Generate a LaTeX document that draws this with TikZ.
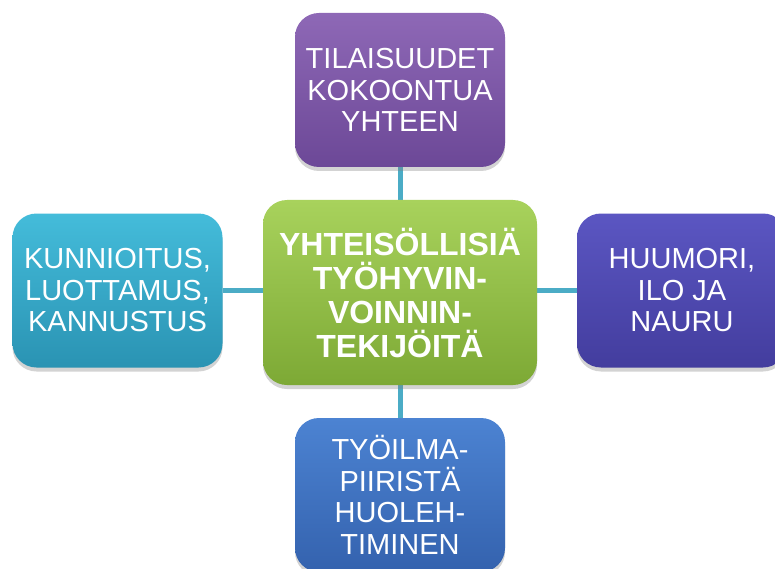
\documentclass[tikz,border=0pt]{standalone}
\usepackage{fontspec}
\setmainfont{Liberation Sans}
\usetikzlibrary{shadows,backgrounds}
\definecolor{conncol}{HTML}{4BACC6}
\tikzset{
  box/.style={rectangle, rounded corners=24pt, inner sep=0pt, align=center,
    text=white, minimum width=210pt, minimum height=154pt,
    font=\fontsize{29}{31.5}\selectfont,
    drop shadow={opacity=0.35, shadow xshift=0pt, shadow yshift=-4pt}},
  topbox/.style={box, top color=purpT, bottom color=purpB},
  leftbox/.style={box, top color=cyanT, bottom color=cyanB},
  rightbox/.style={box, top color=violT, bottom color=violB},
  botbox/.style={box, top color=blueT, bottom color=blueB},
  centerbox/.style={box, top color=greenT, bottom color=greenB,
    minimum width=274pt, minimum height=185pt,
    font=\bfseries\fontsize{32}{34}\selectfont},
  conn/.style={draw=conncol, line width=5pt}
}
\definecolor{purpT}{HTML}{8E68B6}
\definecolor{purpB}{HTML}{6C4897}
\definecolor{cyanT}{HTML}{44BCDA}
\definecolor{cyanB}{HTML}{2A93B3}
\definecolor{violT}{HTML}{5B56C2}
\definecolor{violB}{HTML}{433D9E}
\definecolor{blueT}{HTML}{4C83D2}
\definecolor{blueB}{HTML}{3462AE}
\definecolor{greenT}{HTML}{A8D25C}
\definecolor{greenB}{HTML}{7DA935}
\begin{document}
\begin{tikzpicture}[x=1pt,y=-1pt]
\useasboundingbox (0,0) rectangle (775,569);
\clip (0,0) rectangle (775,569);
\node[centerbox] (c) at (400,292.5) {YHTEISÖLLISIÄ\\TYÖHYVIN-\\VOINNIN-\\TEKIJÖITÄ};
\node[topbox] (t) at (400,90) {TILAISUUDET\\KOKOONTUA\\YHTEEN};
\node[leftbox] (l) at (117.5,290.5) {KUNNIOITUS,\\LUOTTAMUS,\\KANNUSTUS};
\node[rightbox] (r) at (682,290.5) {HUUMORI,\\ILO JA\\NAURU};
\node[botbox] (b) at (400,495) {TYÖILMA-\\PIIRISTÄ\\HUOLEH-\\TIMINEN};
\begin{scope}[on background layer]
\draw[conn] (c.north) -- (t.south);
\draw[conn] (c.south) -- (b.north);
\draw[conn] (c.west |- l.east) -- (l.east);
\draw[conn] (c.east |- r.west) -- (r.west);
\end{scope}
\end{tikzpicture}
\end{document}
